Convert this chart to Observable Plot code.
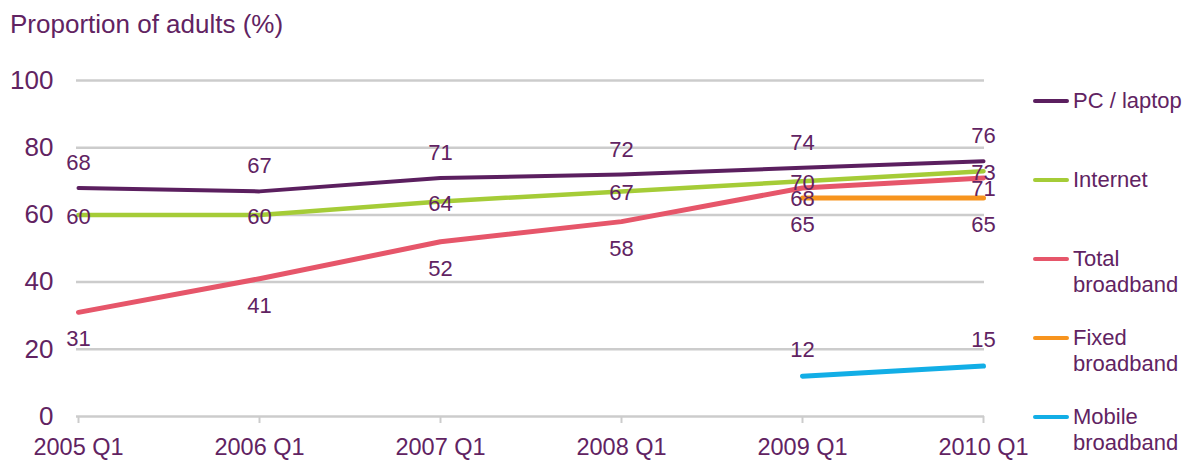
<!DOCTYPE html>
<html><head><meta charset="utf-8">
<script src="https://cdn.jsdelivr.net/npm/d3@7"></script>
<script src="https://cdn.jsdelivr.net/npm/@observablehq/plot@0.6"></script>
<style>
body{margin:0;background:#fff;font-family:"Liberation Sans",Arial,sans-serif;color:#612362}
#wrap{position:relative;width:1189px;height:461px;overflow:hidden}
#title{position:absolute;left:10px;top:11px;font-size:26px;line-height:1;white-space:nowrap}
#chart{position:absolute;left:0;top:50px}
#legend{position:absolute;left:1033px;top:88px}
.item{display:flex;align-items:flex-start;height:79px}
.sw{width:36px;height:4px;border-radius:2px;margin-top:11px;margin-right:4px;flex:none}
.lab{font-size:22px;line-height:26px}
</style></head>
<body>
<div id="wrap">
  <div id="title">Proportion of adults (%)</div>
  <div id="chart"></div>
  <div id="legend"></div>
</div>
<script>
const quarters = ["2005 Q1","2006 Q1","2007 Q1","2008 Q1","2009 Q1","2010 Q1"];
const seriesNames = ["PC / laptop","Internet","Total broadband","Fixed broadband","Mobile broadband"];
const legendLabels = ["PC / laptop","Internet","Total<br>broadband","Fixed<br>broadband","Mobile<br>broadband"];
const pcLaptop = [68,67,71,72,74,76];
const internet = [60,60,64,67,70,73];
const totalBroadband = [31,41,52,58,68,71];
const fixedBroadband = [null,null,null,null,65,65];
const mobileBroadband = [null,null,null,null,12,15];
const yTicks = [0,20,40,60,80,100];

const colors = ["#5b1f5f","#a5cc37","#e6566a","#f7941e","#12aee6"];
const widths = [4,4.5,5,5,5];
const purple = "#612362";
const values = [pcLaptop, internet, totalBroadband, fixedBroadband, mobileBroadband];

const rows = [];
values.forEach((arr, si) => arr.forEach((v, i) => {
  if (v != null) rows.push({series: seriesNames[si], si, i, q: quarters[i], v});
}));

function labelDy(d) {
  if (d.si === 0) return -25;
  if (d.si === 1) return 2;
  if (d.si === 2) return d.i >= 4 ? 11 : 27;
  if (d.si === 3) return 27;
  return -26;
}

const marks = [
  Plot.ruleY(yTicks.filter(t => t > 0), {stroke: "#cccccc", strokeWidth: 2.5}),
  Plot.ruleY([0], {stroke: "#cccccc", strokeWidth: 2.5}),
  Plot.axisY({ticks: yTicks, tickSize: 0, tickPadding: 23, fontSize: 26, fill: purple, tickFormat: d => d}),
  Plot.axisX({tickSize: 7, tickPadding: 15, fontSize: 23.5, stroke: "#cccccc", strokeWidth: 2, fill: purple})
];
seriesNames.forEach((s, si) => {
  marks.push(Plot.line(rows.filter(d => d.si === si), {x: "q", y: "v", stroke: colors[si], strokeWidth: widths[si], strokeLinecap: "round", strokeLinejoin: "round"}));
});
[-25, 2, 27, 11, -26].forEach(dy => {
  marks.push(Plot.text(rows.filter(d => labelDy(d) === dy), {x: "q", y: "v", text: d => String(d.v), dy, fill: purple, fontSize: 22}));
});

const chart = Plot.plot({
  width: 1189, height: 411,
  marginLeft: 76, marginRight: 205, marginTop: 30, marginBottom: 45,
  style: {fontFamily: '"Liberation Sans", Arial, sans-serif', color: purple, background: "white"},
  x: {type: "point", domain: quarters, padding: 0, label: null},
  y: {domain: [0, 100], label: null},
  marks
});
document.getElementById("chart").appendChild(chart);

const legend = document.getElementById("legend");
seriesNames.forEach((s, si) => {
  const it = document.createElement("div");
  it.className = "item";
  it.innerHTML = `<span class="sw" style="background:${colors[si]}"></span><span class="lab">${legendLabels[si]}</span>`;
  legend.appendChild(it);
});
</script>
</body></html>
